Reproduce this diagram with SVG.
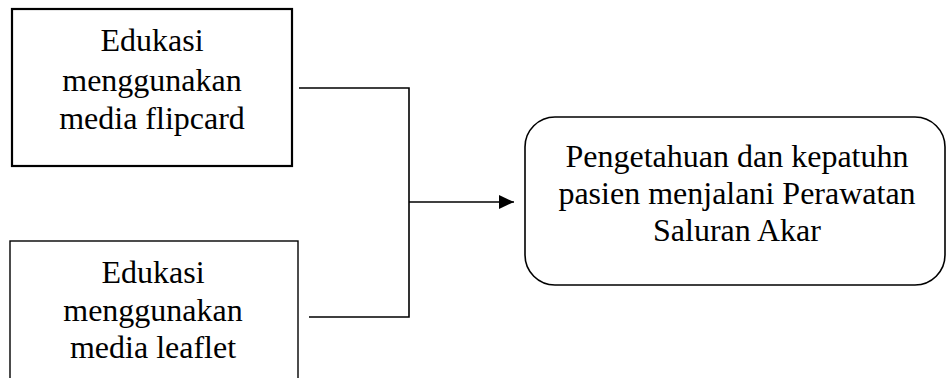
<svg xmlns="http://www.w3.org/2000/svg" width="947" height="378" viewBox="0 0 947 378">
<style>
text{font-family:"Liberation Serif","Times New Roman",serif;font-size:32px;fill:#000;text-anchor:middle}
.box{fill:#fff;stroke:#000}
.ln{fill:none;stroke:#000;stroke-width:1.6}
</style>
<defs>
<marker id="arr" markerWidth="16" markerHeight="14" refX="15" refY="7" orient="auto" markerUnits="userSpaceOnUse">
<path d="M0,0 L15,7 L0,14 Z" fill="#000"/>
</marker>
</defs>
<rect width="947" height="378" fill="#fff"/>
<g id="node-flipcard">
<rect class="box" x="12" y="9" width="280" height="157" stroke-width="2.2"/>
<text x="152" y="51">Edukasi</text>
<text x="152" y="91">menggunakan</text>
<text x="152" y="129">media flipcard</text>
</g>
<g id="node-leaflet">
<rect class="box" x="10" y="241" width="288" height="150" stroke-width="1.4"/>
<text x="153" y="283">Edukasi</text>
<text x="153" y="321">menggunakan</text>
<text x="153" y="358">media leaflet</text>
</g>
<g id="node-outcome">
<rect class="box" x="525" y="117" width="420" height="168" rx="30" ry="30" stroke-width="1.6"/>
<text x="737" y="167">Pengetahuan dan kepatuhn</text>
<text x="737" y="204">pasien menjalani Perawatan</text>
<text x="737" y="241">Saluran Akar</text>
</g>
<g id="connectors">
<polyline class="ln" points="299,88 409,88 409,317 309,317"/>
<line class="ln" x1="409" y1="202" x2="514" y2="202" marker-end="url(#arr)"/>
</g>
</svg>
